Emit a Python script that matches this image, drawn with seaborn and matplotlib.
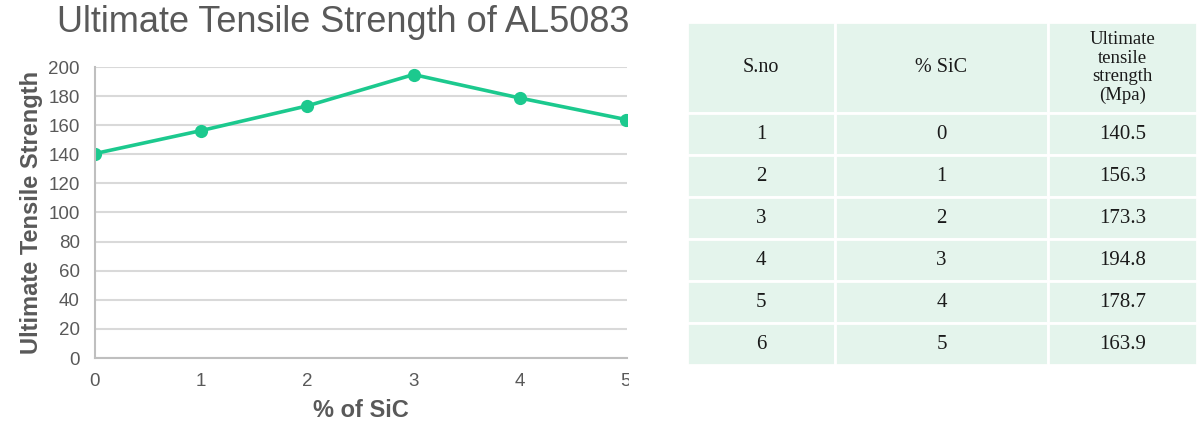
import matplotlib
matplotlib.use("Agg")
import matplotlib.pyplot as plt
import seaborn as sns
import pandas as pd
from matplotlib.patches import Rectangle

# Data
sno = [1, 2, 3, 4, 5, 6]
sic_pct = [0, 1, 2, 3, 4, 5]
uts = [140.5, 156.3, 173.3, 194.8, 178.7, 163.9]
uts_labels = ["140.5", "156.3", "173.3", "194.8", "178.7", "163.9"]
col_headers = ["S.no", "% SiC", "Ultimate\ntensile\nstrength\n(Mpa)"]
y_ticks = list(range(0, 201, 20))
x_ticks = [0, 1, 2, 3, 4, 5]

sns.set_theme(style="white")
plt.rcParams["font.family"] = ["Liberation Sans", "DejaVu Sans"]

GRAY = "#595959"
LINE = "#1CC98E"

fig = plt.figure(figsize=(11.97, 4.23), dpi=100)

# --- line chart ---
ax = fig.add_axes([95 / 1197, 65 / 423, 532 / 1197, 291 / 423])
df = pd.DataFrame({"sic": sic_pct, "uts": uts})
sns.lineplot(data=df, x="sic", y="uts", ax=ax, color=LINE, linewidth=2.6,
             marker="o", markersize=9.5, markeredgewidth=0, clip_on=True)
ax.set_xlim(0, 5.01)
ax.set_ylim(0, 200)
ax.set_yticks(y_ticks)
ax.set_xticks(x_ticks)
ax.yaxis.grid(True, color="#D9D9D9", linewidth=1.5)
ax.xaxis.grid(False)
for s in ["top", "right"]:
    ax.spines[s].set_visible(False)
for s in ["left", "bottom"]:
    ax.spines[s].set_color("#BFBFBF")
    ax.spines[s].set_linewidth(1.5)
ax.tick_params(axis="both", length=0, labelsize=13.5, labelcolor=GRAY)
ax.tick_params(axis="y", pad=11)
ax.tick_params(axis="x", pad=11)
ax.set_xlabel("% of SiC", fontsize=17, fontweight="bold", color=GRAY, labelpad=6)
ax.set_ylabel("Ultimate Tensile Strength", fontsize=17, fontweight="bold",
              color=GRAY, labelpad=4)

fig.text(57 / 1197, 1 - 23 / 423, "Ultimate Tensile Strength of AL5083",
         fontsize=26, color=GRAY, ha="left", va="center")

# the chart panel ends at its right border
fig.patches.append(Rectangle((629 / 1197, 0), 56 / 1197, 1, transform=fig.transFigure,
                             facecolor="white", edgecolor="none", zorder=10))

# --- data table ---
tax = fig.add_axes([687 / 1197, 58 / 423, 1 - 687 / 1197, 343 / 423])
tax.axis("off")
cell_text = [[str(a), str(b), c] for a, b, c in zip(sno, sic_pct, uts_labels)]
tbl = tax.table(cellText=cell_text, colLabels=col_headers, bbox=[0, 0, 1, 1],
                cellLoc="center", colWidths=[148, 213, 149])
tbl.auto_set_font_size(False)
for (r, c), cell in tbl.get_celld().items():
    cell.set_facecolor("#E4F4EC")
    cell.set_edgecolor("white")
    cell.set_linewidth(2)
    cell.set_height(91 if r == 0 else 42)
    txt = cell.get_text()
    txt.set_fontfamily(["Liberation Serif", "DejaVu Serif"])
    txt.set_color("#1A1A1A")
    if r == 0:
        txt.set_fontsize(14.5 if c < 2 else 13.5)
        txt.set_linespacing(1.1)
    else:
        txt.set_fontsize(15)

fig.savefig("out.png", dpi=100)
